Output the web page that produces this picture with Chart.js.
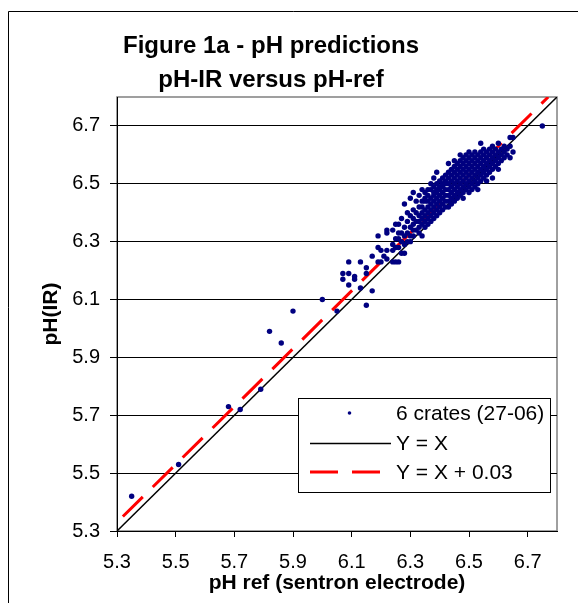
<!DOCTYPE html>
<html>
<head>
<meta charset="utf-8">
<script src="https://cdn.jsdelivr.net/npm/chart.js@4/dist/chart.umd.min.js"></script>
<style>
  html, body { margin: 0; padding: 0; background: #fff; }
  #wrap { position: relative; width: 578px; height: 603px; }
</style>
</head>
<body>
<div id="wrap"><canvas id="c" width="578" height="603"></canvas></div>
<script>
// ---- data ----
const titleLines = ['Figure 1a - pH predictions', 'pH-IR versus pH-ref'];
const xTitle = 'pH ref (sentron electrode)';
const yTitle = 'pH(IR)';
const xTicks = [5.3, 5.5, 5.7, 5.9, 6.1, 6.3, 6.5, 6.7];
const yTicks = [5.3, 5.5, 5.7, 5.9, 6.1, 6.3, 6.5, 6.7];
const axisMin = 5.3;
const axisMax = 6.8;
const seriesNames = ['6 crates (27-06)', 'Y = X', 'Y = X + 0.03'];
// pH ref values and, for each, the pH(IR) readings at that pH ref
const refValues = [5.35, 5.51, 5.68, 5.72, 5.79, 5.82, 5.86, 5.90, 6.00, 6.05,
  6.07, 6.09, 6.11, 6.13, 6.15, 6.17, 6.19, 6.20, 6.21, 6.22,
  6.24, 6.25, 6.26, 6.27, 6.28, 6.29, 6.30, 6.31, 6.32, 6.33,
  6.34, 6.35, 6.36, 6.37, 6.38, 6.39, 6.40, 6.41, 6.42, 6.43,
  6.44, 6.45, 6.46, 6.47, 6.48, 6.49, 6.50, 6.51, 6.52, 6.53,
  6.54, 6.55, 6.56, 6.57, 6.58, 6.59, 6.60, 6.61, 6.62, 6.63,
  6.64, 6.65, 6.75];
const irValues = [[5.42], [5.53], [5.73], [5.72], [5.79], [5.99], [5.95], [6.06], [6.10], [6.06],
  [6.19, 6.17], [6.23, 6.19, 6.15], [6.18, 6.17], [6.23, 6.14], [6.21, 6.19, 6.08],
  [6.25, 6.13], [6.32, 6.28, 6.23], [6.27, 6.23], [6.25], [6.34, 6.33, 6.27, 6.24],
  [6.34, 6.29, 6.27, 6.23], [6.36, 6.31, 6.28, 6.23], [6.36, 6.33, 6.31, 6.28, 6.23],
  [6.38, 6.33, 6.30, 6.26], [6.43, 6.35, 6.32, 6.29, 6.26], [6.40, 6.37, 6.33, 6.30],
  [6.45, 6.39, 6.35, 6.32, 6.30], [6.47, 6.41, 6.38, 6.36, 6.34, 6.32],
  [6.44, 6.40, 6.37, 6.34], [6.46, 6.42, 6.39, 6.37, 6.35, 6.33],
  [6.48, 6.44, 6.42, 6.40, 6.38, 6.36, 6.32], [6.47, 6.45, 6.44, 6.41, 6.39, 6.37, 6.35],
  [6.48, 6.46, 6.44, 6.42, 6.40, 6.38, 6.36], [6.50, 6.48, 6.45, 6.43, 6.41, 6.39, 6.37],
  [6.52, 6.49, 6.47, 6.46, 6.44, 6.42, 6.40, 6.38], [6.54, 6.50, 6.48, 6.47, 6.45, 6.43, 6.41, 6.39],
  [6.51, 6.49, 6.48, 6.46, 6.44, 6.42, 6.40], [6.52, 6.50, 6.49, 6.47, 6.45, 6.43, 6.41],
  [6.53, 6.51, 6.50, 6.48, 6.46, 6.44, 6.42], [6.57, 6.54, 6.52, 6.50, 6.48, 6.46, 6.44, 6.42],
  [6.55, 6.53, 6.51, 6.49, 6.47, 6.45, 6.43], [6.58, 6.56, 6.54, 6.52, 6.50, 6.48, 6.46, 6.44],
  [6.57, 6.55, 6.53, 6.51, 6.49, 6.47, 6.45], [6.60, 6.58, 6.56, 6.54, 6.52, 6.50, 6.48, 6.46],
  [6.59, 6.57, 6.55, 6.53, 6.51, 6.49, 6.47, 6.45], [6.60, 6.58, 6.56, 6.54, 6.52, 6.50, 6.48],
  [6.61, 6.59, 6.57, 6.55, 6.53, 6.51, 6.49, 6.47], [6.60, 6.58, 6.56, 6.54, 6.52, 6.50, 6.48],
  [6.61, 6.59, 6.57, 6.55, 6.53, 6.51, 6.49], [6.60, 6.58, 6.56, 6.54, 6.52, 6.50, 6.48],
  [6.64, 6.61, 6.59, 6.57, 6.55, 6.53, 6.51], [6.62, 6.60, 6.58, 6.56, 6.54, 6.52],
  [6.61, 6.59, 6.57, 6.55, 6.53, 6.51], [6.62, 6.60, 6.58, 6.56, 6.54],
  [6.63, 6.61, 6.59, 6.57, 6.55, 6.52], [6.62, 6.60, 6.58, 6.56],
  [6.64, 6.61, 6.59, 6.57, 6.55], [6.62, 6.60, 6.58], [6.63, 6.61, 6.59], [6.62, 6.60],
  [6.66, 6.63, 6.59], [6.66, 6.61], [6.70]];
// reference lines: Y = X and Y = X + 0.03
const identityLineX = [5.3, 6.8];
const offsetLineX = [5.32, 6.77];
const lineOffset = 0.03;

// ---- build datasets ----
const scatterPoints = [];
refValues.forEach((ref, i) => irValues[i].forEach(ir => scatterPoints.push({ x: ref, y: ir })));
const identityLine = identityLineX.map(v => ({ x: v, y: v }));
const offsetLine = offsetLineX.map(v => ({ x: v, y: +(v + lineOffset).toFixed(2) }));

const FONT = "'Liberation Sans', Arial, sans-serif";
Chart.defaults.font.family = FONT;
Chart.defaults.color = '#000';

const framePlugin = {
  id: 'frame',
  beforeDraw(chart) {
    const { ctx, chartArea: a } = chart;
    ctx.save();
    ctx.fillStyle = '#fff';
    ctx.fillRect(0, 0, chart.width, chart.height);
    ctx.strokeStyle = '#000';
    ctx.lineWidth = 1;
    ctx.beginPath();
    ctx.moveTo(8.5, chart.height);
    ctx.lineTo(8.5, 11.5);
    ctx.lineTo(chart.width, 11.5);
    ctx.stroke();
    ctx.strokeStyle = '#808080';
    ctx.lineWidth = 1.5;
    ctx.strokeRect(a.left, a.top, a.right - a.left, a.bottom - a.top);
    ctx.restore();
  }
};

const titlePlugin = {
  id: 'bigTitle',
  afterDraw(chart) {
    const { ctx } = chart;
    ctx.save();
    ctx.fillStyle = '#000';
    ctx.font = 'bold 24px ' + FONT;
    ctx.textAlign = 'center';
    ctx.textBaseline = 'alphabetic';
    ctx.fillText(titleLines[0], 271, 53);
    ctx.fillText(titleLines[1], 271, 87);
    ctx.restore();
  }
};

const legendPlugin = {
  id: 'boxLegend',
  afterDraw(chart) {
    const { ctx, chartArea: a } = chart;
    const ds = chart.data.datasets;
    const right = a.right - 7, bottom = a.bottom - 39;
    const left = right - 252, top = bottom - 94;
    ctx.save();
    ctx.fillStyle = '#fff';
    ctx.fillRect(left, top, right - left, bottom - top);
    ctx.strokeStyle = '#000';
    ctx.lineWidth = 1;
    ctx.strokeRect(left + 0.5, top + 0.5, right - left, bottom - top);
    const rows = [top + 15, top + 45.5, top + 74];
    const sx0 = left + 12, sx1 = left + 93, tx = left + 98;
    // row 1: marker
    ctx.fillStyle = ds[0].backgroundColor;
    ctx.beginPath();
    ctx.arc((sx0 + sx1) / 2 - 1, rows[0], 1.8, 0, Math.PI * 2);
    ctx.fill();
    // row 2: solid line
    ctx.strokeStyle = ds[1].borderColor;
    ctx.lineWidth = ds[1].borderWidth;
    ctx.beginPath();
    ctx.moveTo(sx0, rows[1]); ctx.lineTo(sx1, rows[1]);
    ctx.stroke();
    // row 3: dashed line
    ctx.strokeStyle = ds[2].borderColor;
    ctx.lineWidth = ds[2].borderWidth;
    ctx.setLineDash(ds[2].borderDash);
    ctx.beginPath();
    ctx.moveTo(sx0, rows[2]); ctx.lineTo(sx1 - 8, rows[2]);
    ctx.stroke();
    ctx.setLineDash([]);
    ctx.fillStyle = '#000';
    ctx.font = '21px ' + FONT;
    ctx.textAlign = 'left';
    ctx.textBaseline = 'middle';
    seriesNames.forEach((n, i) => ctx.fillText(n, tx, rows[i] + 1));
    ctx.restore();
  }
};

new Chart(document.getElementById('c'), {
  type: 'scatter',
  data: {
    datasets: [
      { label: seriesNames[0], data: scatterPoints, backgroundColor: '#000080', borderColor: '#000080',
        borderWidth: 0, pointRadius: 2.7, pointHoverRadius: 2.7, showLine: false },
      { label: seriesNames[1], data: identityLine, type: 'line', borderColor: '#000', borderWidth: 1.5,
        pointRadius: 0, fill: false, showLine: true },
      { label: seriesNames[2], data: offsetLine, type: 'line', borderColor: '#ff0000', borderWidth: 3,
        borderDash: [28, 14], pointRadius: 0, fill: false, showLine: true }
    ]
  },
  options: {
    responsive: false,
    animation: false,
    devicePixelRatio: 1,
    layout: { padding: { left: 0, right: 21, top: 97, bottom: 0 } },
    plugins: { legend: { display: false }, title: { display: false }, tooltip: { enabled: false } },
    events: [],
    scales: {
      x: {
        type: 'linear', min: axisMin, max: axisMax,
        afterBuildTicks: s => { s.ticks = xTicks.map(v => ({ value: v })); },
        afterFit: s => { s.height = 72; },
        ticks: { font: { size: 20 }, color: '#000', padding: 13, maxRotation: 0, autoSkip: false,
          callback: v => (+v).toFixed(1) },
        grid: { drawOnChartArea: false, drawTicks: true, tickLength: 6, tickColor: '#000', tickWidth: 1 },
        border: { display: true, color: '#000', width: 1 },
        title: { display: true, text: xTitle, font: { size: 21, weight: 'bold' }, color: '#000',
          padding: { top: 0, bottom: 7 } }
      },
      y: {
        type: 'linear', min: axisMin, max: axisMax,
        afterBuildTicks: s => { s.ticks = yTicks.map(v => ({ value: v })); },
        afterFit: s => { s.width = 117; },
        ticks: { font: { size: 20 }, color: '#000', padding: 10, autoSkip: false,
          callback: v => (+v).toFixed(1) },
        grid: { drawOnChartArea: true, color: '#000', lineWidth: 1, drawTicks: true, tickLength: 7,
          tickColor: '#000' },
        border: { display: true, color: '#000', width: 1 },
        title: { display: true, text: yTitle, font: { size: 21, weight: 'bold' }, color: '#000',
          padding: { top: 39, bottom: 0 } }
      }
    }
  },
  plugins: [framePlugin, titlePlugin, legendPlugin]
});
</script>
</body>
</html>
